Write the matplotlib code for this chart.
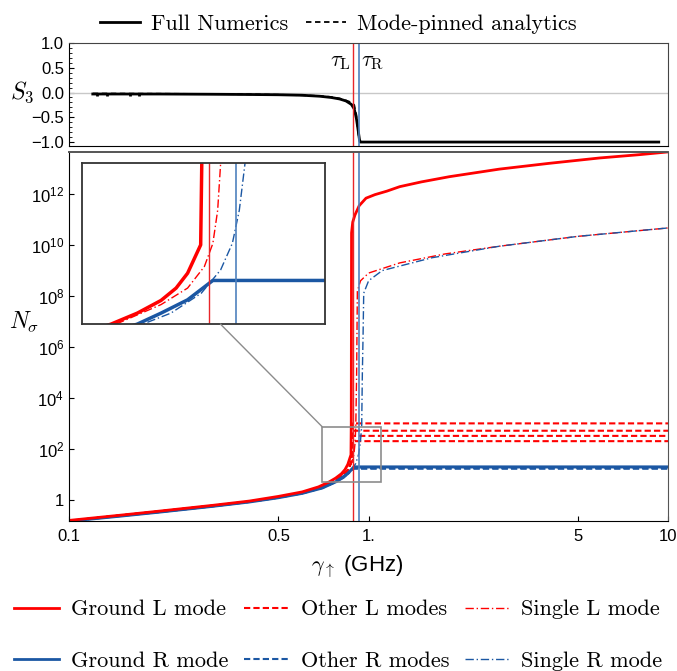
import matplotlib
matplotlib.use("Agg")
import matplotlib.pyplot as plt
from matplotlib.lines import Line2D
from matplotlib.patches import Rectangle, ConnectionPatch

plt.rcParams['font.family'] = ['Liberation Sans', 'DejaVu Sans']
plt.rcParams['mathtext.fontset'] = 'custom'
plt.rcParams['mathtext.rm'] = 'Liberation Sans'
plt.rcParams['mathtext.it'] = 'Liberation Sans:italic'

RED = '#ff0000'
BLUE = '#1b57a3'

# thresholds (GHz)
tau_L = 0.887
tau_R = 0.932

# --- S3 panel ---
s3_x = [0.12, 0.2, 0.3, 0.4, 0.5, 0.6, 0.687, 0.75, 0.80, 0.84, 0.876, 0.895, 0.91, 0.922, 0.933, 0.938, 9.3]
s3_full = [-0.03, -0.03, -0.035, -0.04, -0.045, -0.055, -0.075, -0.1, -0.13, -0.17, -0.24, -0.33, -0.52, -0.75, -0.97, -1.0, -1.0]
s3_an = [-0.02, -0.025, -0.03, -0.035, -0.045, -0.055, -0.07, -0.09, -0.12, -0.16, -0.2, -0.25, -0.45, -0.8, -0.98, -1.0, -1.0]
s3_err_x = [0.124, 0.134, 0.160, 0.171]
s3_err_y = [-0.03, -0.03, -0.03, -0.03]

# --- N_sigma panel ---
gL_x = [0.1, 0.15, 0.2, 0.3, 0.4, 0.5, 0.6, 0.68, 0.739, 0.776, 0.811, 0.834, 0.852, 0.873, 0.875,
        0.877, 0.885, 0.9, 0.93, 0.98, 1.05, 1.15, 1.27, 1.5, 1.86, 2.73, 4.0, 5.9, 8.0, 10.0]
gL_y = [0.16, 0.26, 0.37, 0.62, 0.92, 1.4, 2.1, 3.3, 5.2, 7.3, 10.8, 15.8, 25, 60, 1e3,
        3e10, 8e10, 1.5e11, 3.5e11, 6.9e11, 9.5e11, 1.3e12, 1.95e12, 3e12, 4.8e12, 9.5e12, 1.6e13, 2.6e13, 3.5e13, 4.5e13]

gR_x = [0.1, 0.15, 0.2, 0.3, 0.4, 0.5, 0.6, 0.7, 0.776, 0.811, 0.852, 0.893, 10.0]
gR_y = [0.15, 0.24, 0.34, 0.57, 0.85, 1.25, 1.85, 3.0, 5.2, 7.3, 11, 20, 20]

sL_x = [0.1, 0.2, 0.3, 0.4, 0.5, 0.6, 0.7, 0.746, 0.811, 0.852, 0.879, 0.893, 0.901, 0.906, 0.912,
        0.917, 0.94, 1.0, 1.27, 1.8, 2.73, 5.0, 10.0]
sL_y = [0.155, 0.36, 0.6, 0.88, 1.3, 1.95, 3.2, 5.2, 9.5, 15.8, 30.7, 62.7, 174, 740, 1e5,
        1.6e8, 4e8, 8e8, 2e9, 4.5e9, 9e9, 2.2e10, 4.7e10]

sR_x = [0.1, 0.2, 0.3, 0.4, 0.5, 0.6, 0.7, 0.784, 0.826, 0.874, 0.906, 0.926, 0.938, 0.948, 0.953,
        0.958, 0.963, 1.0, 1.11, 1.63, 2.73, 5.0, 10.0]
sR_y = [0.15, 0.34, 0.57, 0.84, 1.25, 1.85, 3.0, 5.2, 7.3, 13.5, 27.7, 63, 174, 740, 1e5,
        2.5e6, 1.3e8, 4e8, 1e9, 3.2e9, 9e9, 2.2e10, 4.7e10]

oL_x = [0.1, 0.2, 0.3, 0.4, 0.5, 0.6, 0.7, 0.8, 0.85, 0.875, 0.885, 10.0]
oL_pre = [0.155, 0.36, 0.6, 0.88, 1.3, 1.95, 3.1, 8.0, 14, 30]
oL_levels = [1020, 525, 330, 205]

oR_x = [0.1, 0.2, 0.3, 0.4, 0.5, 0.6, 0.7, 0.776, 0.811, 0.852, 0.893, 10.0]
oR_pre = [0.15, 0.34, 0.57, 0.85, 1.25, 1.85, 3.0, 5.2, 7.3, 11]
oR_levels = [18, 17]

# inset window
win_x = (0.70, 1.10)
win_y = (5.2, 750)

xticks = [0.1, 0.5, 1, 5, 10]
xticklabels = ['0.1', '0.5', '1.', '5', '10']
yticks = [1, 1e2, 1e4, 1e6, 1e8, 1e10, 1e12]
yticklabels = ['1', '$10^{2}$', '$10^{4}$', '$10^{6}$', '$10^{8}$', '$10^{10}$', '$10^{12}$']

fig = plt.figure(figsize=(6.77, 6.71), dpi=100)
ax_top = fig.add_axes([0.102, 0.7824, 0.885, 0.1535])
ax = fig.add_axes([0.102, 0.2235, 0.885, 0.55])

# top panel
ax_top.axhline(0, color='#c8c8c8', lw=1)
ax_top.plot(s3_x, s3_full, color='black', lw=2)
ax_top.plot(s3_x, s3_an, color='black', lw=1.3, ls=(0, (3, 2)))
ax_top.errorbar(s3_err_x, s3_err_y, yerr=0.03, fmt='none', ecolor='black', elinewidth=2)
ax_top.axvline(tau_L, color='#e8262a', lw=1)
ax_top.axvline(tau_R, color='#4f81bd', lw=1.2)
ax_top.set_xscale('log')
ax_top.set_xlim(0.1, 10)
ax_top.set_ylim(-1.08, 1.0)
ax_top.set_yticks([-1.0, -0.5, 0.0, 0.5, 1.0])
ax_top.set_yticklabels(['\u22121.0', '\u22120.5', '0.0', '0.5', '1.0'], fontsize=12)
ax_top.set_yticks([i / 10 for i in range(-10, 11)], minor=True)
ax_top.tick_params(axis='y', which='both', direction='in', right=False)
ax_top.tick_params(axis='y', which='minor', length=2.5)
ax_top.tick_params(axis='x', which='both', bottom=False, top=False, labelbottom=False)
for s in ax_top.spines.values():
    s.set_color('#444444')
ax_top.spines['left'].set_color('black')
ax_top.spines['bottom'].set_color('black')
ax_top.text(tau_L * 0.985, 0.62, r'$\tau_{\rm L}$', ha='right', va='center', fontsize=16, math_fontfamily='cm')
ax_top.text(tau_R * 1.015, 0.62, r'$\tau_{\rm R}$', ha='left', va='center', fontsize=16, math_fontfamily='cm')

# main panel
for lev in oL_levels:
    ax.plot(oL_x, oL_pre + [lev, lev], color=RED, lw=1.5, ls=(0, (3, 1.5)))
for lev in oR_levels:
    ax.plot(oR_x, oR_pre + [lev, lev], color=BLUE, lw=1.5, ls=(0, (3, 1.5)))
ax.plot(sL_x, sL_y, color=RED, lw=1, ls=(0, (6, 2, 1, 2)))
ax.plot(sR_x, sR_y, color=BLUE, lw=1, ls=(0, (6, 2, 1, 2)))
ax.plot(gR_x, gR_y, color=BLUE, lw=2.2)
ax.plot(gL_x, gL_y, color=RED, lw=2)
ax.axvline(tau_L, color='#e8262a', lw=1)
ax.axvline(tau_R, color='#4f81bd', lw=1.2)
ax.add_patch(Rectangle((win_x[0], win_y[0]), win_x[1] - win_x[0], win_y[1] - win_y[0],
                       fill=False, edgecolor='#8c8c8c', lw=1.2, zorder=5))
ax.set_xscale('log')
ax.set_yscale('log')
ax.set_xlim(0.1, 10)
ax.set_ylim(10 ** -0.82, 10 ** 13.65)
ax.set_xticks(xticks)
ax.set_xticklabels(xticklabels, fontsize=12)
ax.set_yticks(yticks)
ax.set_yticklabels(yticklabels, fontsize=12)
ax.minorticks_off()
ax.tick_params(which='both', direction='in', top=False, right=False)
ax.tick_params(axis='x', pad=6)
for s in ax.spines.values():
    s.set_color('#555555')
ax.spines['top'].set_linewidth(1.4)
ax.spines['left'].set_color('black')
ax.spines['bottom'].set_color('black')

# inset
ax_in = fig.add_axes([0.121, 0.517, 0.359, 0.24])
ax_in.plot(sL_x, sL_y, color=RED, lw=1, ls=(0, (6, 2, 1, 2)))
ax_in.plot(sR_x, sR_y, color=BLUE, lw=1, ls=(0, (6, 2, 1, 2)))
ax_in.plot(gR_x, gR_y, color=BLUE, lw=2.5)
ax_in.plot(gL_x, gL_y, color=RED, lw=2.5)
ax_in.axvline(tau_L, color='#e8262a', lw=1)
ax_in.axvline(tau_R, color='#4f81bd', lw=1.2)
ax_in.set_xscale('log')
ax_in.set_yscale('log')
ax_in.set_xlim(*win_x)
ax_in.set_ylim(*win_y)
ax_in.set_xticks([])
ax_in.set_yticks([])
ax_in.minorticks_off()
for s in ax_in.spines.values():
    s.set_color('#333333')
    s.set_linewidth(1.3)
con = ConnectionPatch(xyA=(0.57, 0.0), coordsA=ax_in.transAxes,
                      xyB=(win_x[0], win_y[1]), coordsB=ax.transData,
                      color='#8c8c8c', lw=1)
fig.add_artist(con)

# labels
fig.text(22 / 677, 1 - 92 / 671, r'$S_3$', ha='center', va='center', fontsize=17, math_fontfamily='cm')
fig.text(24 / 677, 1 - 322 / 671, r'$N_\sigma$', ha='center', va='center', fontsize=17, math_fontfamily='cm')
fig.text(357 / 677, 1 - 567 / 671, r'$\gamma_{\uparrow}$ (GHz)', ha='center', va='center',
         fontsize=16, math_fontfamily='cm')

# legends
top_handles = [Line2D([], [], color='black', lw=2), Line2D([], [], color='black', lw=1.3, ls=(0, (3, 2)))]
fig.legend(top_handles, ['Full Numerics', 'Mode-pinned analytics'], loc='upper center',
           bbox_to_anchor=(0.5, 1.008), ncol=2, frameon=False, prop={'family': 'cmr10', 'size': 16},
           handlelength=1.8, columnspacing=0.8, handletextpad=0.5)

bot_handles = [
    Line2D([], [], color=RED, lw=2), Line2D([], [], color=BLUE, lw=2),
    Line2D([], [], color=RED, lw=1.5, ls=(0, (3, 1.5))), Line2D([], [], color=BLUE, lw=1.5, ls=(0, (3, 1.5))),
    Line2D([], [], color=RED, lw=1, ls=(0, (6, 2, 1, 2))), Line2D([], [], color=BLUE, lw=1, ls=(0, (6, 2, 1, 2))),
]
bot_labels = ['Ground L mode', 'Ground R mode', 'Other L modes', 'Other R modes', 'Single L mode', 'Single R mode']
fig.legend(bot_handles, bot_labels, loc='lower center', bbox_to_anchor=(0.5, -0.03), ncol=3,
           frameon=False, prop={'family': 'cmr10', 'size': 16}, handlelength=2.0,
           columnspacing=0.7, handletextpad=0.55, labelspacing=1.45)

fig.savefig('out.png', dpi=100)
